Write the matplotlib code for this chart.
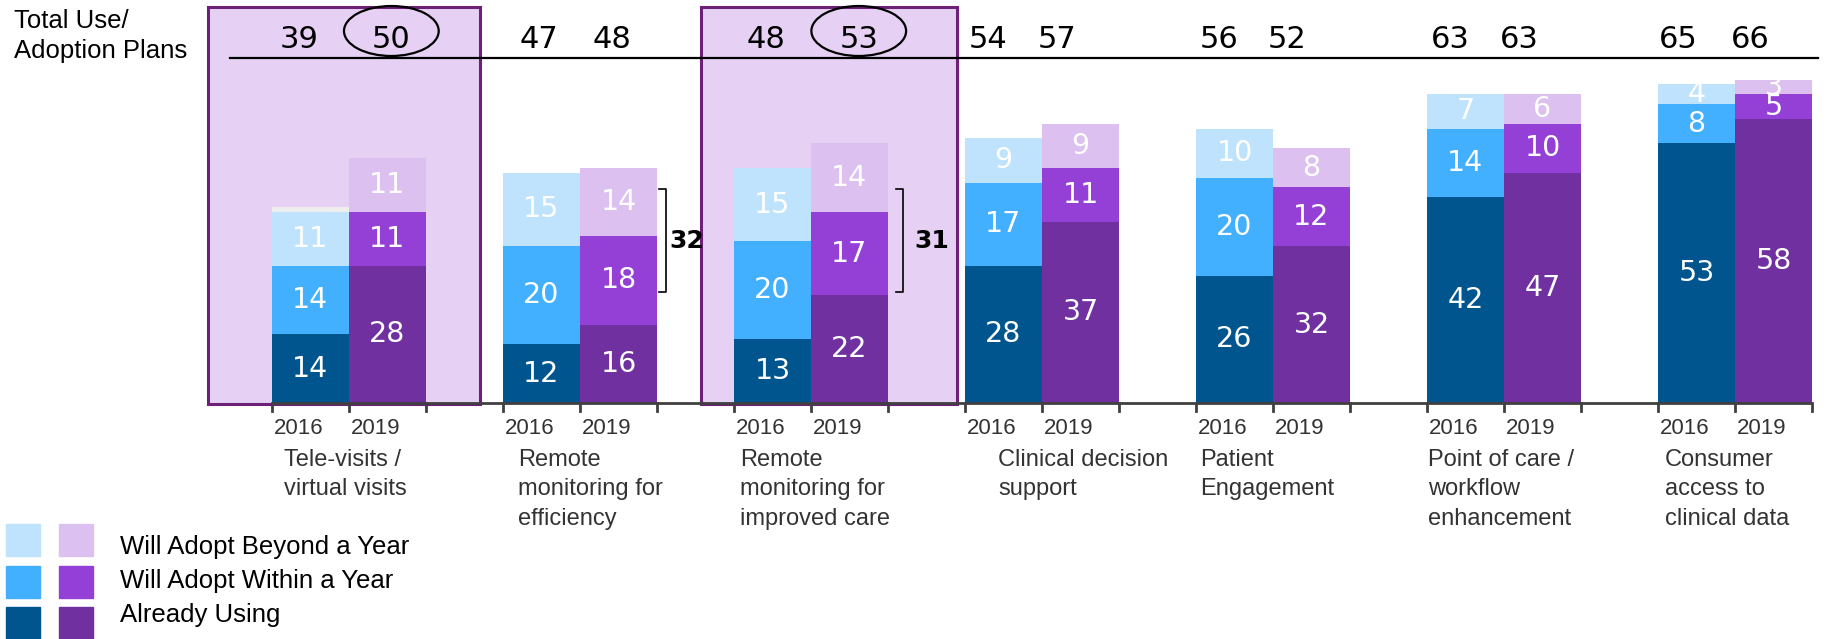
import matplotlib
matplotlib.use("Agg")
import matplotlib.pyplot as plt
from matplotlib.patches import Rectangle, Ellipse
import numpy as np

# data
categories = ["Tele-visits /\nvirtual visits",
              "Remote\nmonitoring for\nefficiency",
              "Remote\nmonitoring for\nimproved care",
              "Clinical decision\nsupport",
              "Patient\nEngagement",
              "Point of care /\nworkflow\nenhancement",
              "Consumer\naccess to\nclinical data"]
years = ["2016", "2019"]
using_2016 = [14, 12, 13, 28, 26, 42, 53]
within_2016 = [14, 20, 20, 17, 20, 14, 8]
beyond_2016 = [11, 15, 15, 9, 10, 7, 4]
other_2016 = [1, 0, 0, 0, 0, 0, 0]
using_2019 = [28, 16, 22, 37, 32, 47, 58]
within_2019 = [11, 18, 17, 11, 12, 10, 5]
beyond_2019 = [11, 14, 14, 9, 8, 6, 3]
total_2016 = [39, 47, 48, 54, 56, 63, 65]
total_2019 = [50, 48, 53, 57, 52, 63, 66]
circled = [0, 2]          # groups whose 2019 total is circled / boxed
bracket_groups = [1, 2]
bracket_values = [32, 31]
legend_labels = ["Will Adopt Beyond a Year", "Will Adopt Within a Year", "Already Using"]

# colours
c16 = ["#00558F", "#42B0FF", "#BFE3FD"]
c19 = ["#7030A0", "#9440D6", "#DCC0F0"]
box_fill = "#E6D1F4"
box_edge = "#6E1F78"

# layout (x offsets in slot units)
tot_dx16 = [-0.15, -0.03, -0.09, -0.20, -0.20, -0.20, -0.24]
tot_dx19 = [0.05, -0.09, 0.12, -0.30, -0.32, -0.30, -0.30]
cat_dx = [0.16, 0.19, 0.08, 0.43, 0.05, 0.01, 0.09]
box_pad = {0: (0.83, 0.70), 2: (0.43, 0.90)}
narrow = ["Liberation Sans Narrow", "Liberation Sans", "DejaVu Sans"]

W, H = 1833, 639
fig = plt.figure(figsize=(W / 100, H / 100), dpi=100)
px_per_unit = 4.9
base_px = 403
ax = fig.add_axes([272 / W, (H - base_px) / H, 1540 / W, base_px / H])
ax.set_xlim(-0.5, 19.5)
ax.set_ylim(0, base_px / px_per_unit)
ax.axis("off")

n = len(categories)
x16 = np.arange(n) * 3
x19 = x16 + 1

# highlight boxes behind bars
for g in circled:
    pl, pr = box_pad[g]
    left = x16[g] - 0.5 - pl
    right = x19[g] + 0.5 + pr
    ax.add_patch(Rectangle((left, -0.2), right - left, 81.0, facecolor=box_fill,
                           edgecolor=box_edge, lw=2.2, zorder=0, clip_on=False))

def stack(x, parts, colors, labels=True):
    bottom = np.zeros(n)
    for vals, col in zip(parts, colors):
        vals = np.array(vals, dtype=float)
        ax.bar(x, vals, width=1.0, bottom=bottom, color=col, zorder=2)
        if labels:
            for xi, b, v in zip(x, bottom, vals):
                if v > 0:
                    ax.text(xi, b + v / 2, f"{int(v)}", ha="center", va="center",
                            color="white", fontsize=20.5, zorder=3)
        bottom += vals
    return bottom

top16 = stack(x16, [using_2016, within_2016, beyond_2016], c16)
ax.bar(x16, other_2016, width=1.0, bottom=top16, color="#EEEEEE", zorder=2)
stack(x19, [using_2019, within_2019, beyond_2019], c19)

# x axis line and ticks
ax.plot([-0.5, 19.5], [0, 0], color="#404040", lw=2, zorder=4, clip_on=False,
        solid_capstyle="butt")
for t in np.arange(-0.5, 20, 1.0):
    ax.plot([t, t], [0, -1.6], color="#404040", lw=2, zorder=4, clip_on=False)

# year labels and category labels
for g in range(n):
    ax.text(x16[g] - 0.15, -5.3, years[0], ha="center", va="center",
            fontsize=16, color="#333333", family=narrow)
    ax.text(x19[g] - 0.15, -5.3, years[1], ha="center", va="center",
            fontsize=16, color="#333333", family=narrow)
    ax.text(x16[g] - 0.5 + cat_dx[g], -9.3, categories[g], ha="left", va="top",
            fontsize=17, color="#333333", family=narrow, linespacing=1.45)

# totals row
top_y = (base_px - 58) / px_per_unit
tot_y = (base_px - 39) / px_per_unit
ax.plot([-1.05, 19.58], [top_y, top_y], color="black", lw=1.6, clip_on=False, zorder=4)
for g in range(n):
    ax.text(x16[g] + tot_dx16[g], tot_y, str(total_2016[g]), ha="center", va="center",
            fontsize=22, zorder=4)
    ax.text(x19[g] + tot_dx19[g], tot_y, str(total_2019[g]), ha="center", va="center",
            fontsize=22, zorder=4)
for g in circled:
    ax.add_patch(Ellipse((x19[g] + tot_dx19[g], (base_px - 31) / px_per_unit), 1.23, 10.2,
                         fill=False, edgecolor="black", lw=1.6, zorder=4, clip_on=False))

# brackets
br_lo = (base_px - 292) / px_per_unit
br_hi = (base_px - 189) / px_per_unit
for g, val, gap, lab_dx in zip(bracket_groups, bracket_values, [0.12, 0.2], [0.38, 0.57]):
    xr = x19[g] + 0.5 + gap
    ax.plot([xr - 0.1, xr, xr, xr - 0.1], [br_hi, br_hi, br_lo, br_lo],
            color="black", lw=1.2, zorder=4)
    ax.text(x19[g] + 0.5 + lab_dx, (br_lo + br_hi) / 2, str(val), ha="center",
            va="center", fontsize=18, fontweight="bold", zorder=5)

# header text
fig.text(14 / W, 1 - 21 / H, "Total Use/", ha="left", va="center", fontsize=18.5,
         family=narrow)
fig.text(14 / W, 1 - 51 / H, "Adoption Plans", ha="left", va="center", fontsize=18.5,
         family=narrow)

# legend
row_tops = [524, 566, 607]
text_y = [547, 581, 615]
for i in range(3):
    k = 2 - i
    for xl, col in [(6, c16[k]), (59, c19[k])]:
        fig.add_artist(Rectangle((xl / W, 1 - (row_tops[i] + 32) / H), 34 / W, 32 / H,
                                 transform=fig.transFigure, color=col))
    fig.text(120 / W, 1 - text_y[i] / H, legend_labels[i], ha="left",
             va="center", fontsize=18.5, family=narrow)

fig.savefig("out.png", dpi=100)
